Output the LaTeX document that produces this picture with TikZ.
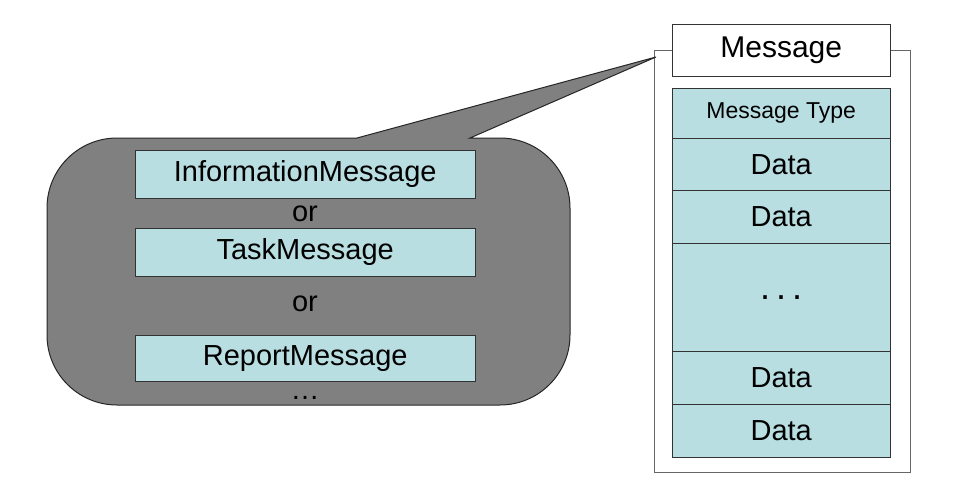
\documentclass[tikz,border=0pt]{standalone}
\usepackage{fontspec}
\setmainfont{Liberation Sans}
\definecolor{cellc}{HTML}{B8DEE2}
\definecolor{callc}{HTML}{808080}
\begin{document}
\begin{tikzpicture}[x=1pt,y=-1pt,
  cell/.style={draw=black!80,fill=cellc,minimum width=218pt,inner sep=0pt,anchor=north west,font=\fontsize{29}{32}\selectfont},
  ibox/.style={draw=black!80,fill=cellc,minimum width=340pt,inner sep=0pt,anchor=north west,font=\fontsize{29}{32}\selectfont},
  lbl/.style={font=\fontsize{29}{32}\selectfont}]
\useasboundingbox (0,0) rectangle (954,495);
\fill[white] (0,0) rectangle (954,495);
% frame
\draw[black!60] (654,50) rectangle (910,472);
% callout
\draw[black!85,fill=callc,line width=1pt] (357,138) -- (656,57) -- (470,138)
  [rounded corners=70] -- (570,138) -- (570,405) -- (47,405) -- (47,138) [sharp corners] -- cycle;
\node[ibox,minimum height=48pt] (im) at (135,150) {InformationMessage};
\node[lbl] (or1) at (305,214) {or};
\node[ibox,minimum height=48pt] (tm) at (135,228) {TaskMessage};
\node[lbl] (or2) at (305,304) {or};
\node[ibox,minimum height=46pt] (rm) at (135,335) {ReportMessage};
\node[lbl] (dd) at (305,398) {\dots};
% message stack
\node[draw=black!80,fill=white,minimum width=218pt,minimum height=52pt,inner sep=0pt,anchor=north west,font=\fontsize{30}{32}\selectfont] (msg) at (672,24) {Message};
\node[cell,minimum height=50pt,font=\fontsize{23}{26}\selectfont] (mt) at (672,88) {Message Type};
\node[cell,minimum height=52pt] (d1) at (672,138) {Data};
\node[cell,minimum height=53pt] (d2) at (672,190) {Data};
\node[cell,minimum height=108pt,font=\fontsize{36}{40}\selectfont] (dots) at (672,243) {.\hspace{6pt}.\hspace{6pt}.};
\node[cell,minimum height=53pt] (d3) at (672,351) {Data};
\node[cell,minimum height=53pt] (d4) at (672,404) {Data};
\end{tikzpicture}
\end{document}
